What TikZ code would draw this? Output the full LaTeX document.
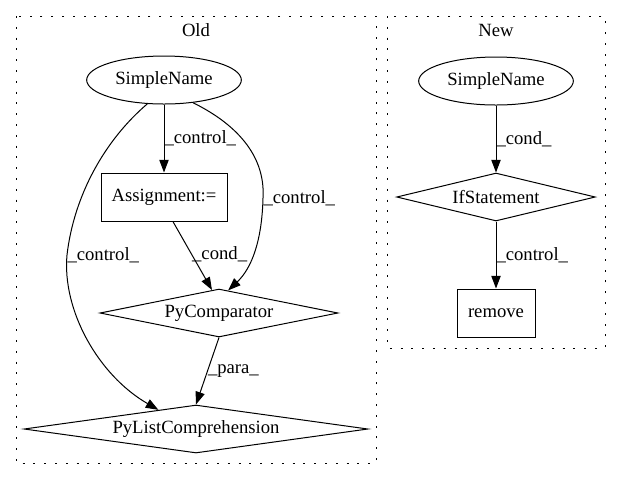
\documentclass[tikz,border=0pt]{standalone}
\usepackage{fontspec}
\setmainfont{Liberation Serif}
\usetikzlibrary{shapes.geometric,arrows.meta}
\begin{document}
\begin{tikzpicture}[x=0.75pt,y=-0.75pt,
  every node/.style={font=\fontsize{14}{16}\selectfont},
  ell/.style={draw,ellipse,line width=0.75pt,inner sep=0pt,minimum width=116pt,minimum height=36pt},
  rbox/.style={draw,rectangle,line width=0.75pt,inner sep=0pt,minimum height=36pt},
  dia/.style={draw,diamond,aspect=6,line width=0.75pt,inner sep=0pt,minimum height=36pt},
  cluster/.style={draw,line width=0.75pt,dash pattern=on 1.5pt off 6.6pt},
  edge/.style={line width=0.75pt,-{Triangle[length=9.5pt,width=7pt]}},
  lab/.style={anchor=west,inner sep=0pt}]
\useasboundingbox (0,0) rectangle (621,480);
% clusters
\draw[cluster] (16,16) rectangle (376,463);
\draw[cluster] (387,16) rectangle (605,348);
\node (oldt) at (196,30) {Old};
\node (newt) at (496,30) {New};
% Old nodes
\node[ell] (sn1) at (164,80) {SimpleName};
\node[rbox,minimum width=94.5pt] (asg) at (164,197) {Assignment:=};
\node[dia,minimum width=178.5pt] (pc) at (219,313) {PyComparator};
\node[dia,minimum width=258pt] (plc) at (196,429) {PyListComprehension};
% New nodes
\node[ell] (sn2) at (496,81) {SimpleName};
\node[dia,minimum width=149pt] (ifs) at (496,197) {IfStatement};
\node[rbox,minimum width=58.5pt] (rem) at (496,313) {remove};
% Old edges
\draw[edge] (sn1) -- node[lab]{\_control\_} (asg);
\draw[edge] (sn1.-38) .. controls (248,130) and (265,165) .. (263,198)
   node[lab]{\_control\_}
   .. controls (262,240) and (252,268) .. (pc.68);
\draw[edge] (sn1.-125) .. controls (105,140) and (74,195) .. (67,255)
   node[lab]{\_control\_}
   .. controls (62,310) and (98,375) .. (plc.153);
\draw[edge] (asg.-70) -- node[lab,pos=0.48]{\_cond\_} (pc.107);
\draw[edge] (pc.south) -- node[lab]{\_para\_} (plc.north);
% New edges
\draw[edge] (sn2) -- node[lab]{\_cond\_} (ifs);
\draw[edge] (ifs) -- node[lab]{\_control\_} (rem);
\end{tikzpicture}
\end{document}
